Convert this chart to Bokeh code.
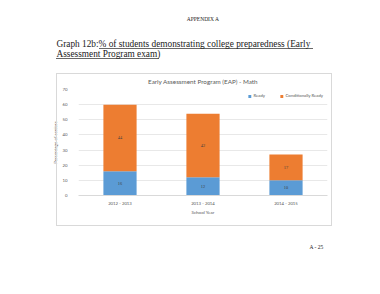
from bokeh.plotting import figure
from bokeh.models import (ColumnDataSource, LabelSet, Legend, LegendItem, FactorRange,
                          Title, InlineStyleSheet)
from bokeh.embed import file_html
from bokeh.resources import INLINE

years = ["2012 - 2013", "2013 - 2014", "2014 - 2015"]
ready = [16, 12, 10]
cond_ready = [44, 42, 17]
series_names = ["Ready", "Conditionally Ready"]
y_ticks = [0, 10, 20, 30, 40, 50, 60, 70]

BLUE = "#5B9BD5"
ORANGE = "#ED7D31"
GRAY = "#595959"
FONT = "Lato"
SERIF = "Liberation Serif"

src = ColumnDataSource(dict(
    years=years, ready=ready, cond=cond_ready,
    ready_mid=[r / 2 for r in ready],
    cond_mid=[r + c / 2 for r, c in zip(ready, cond_ready)],
    ready_txt=[str(v) for v in ready],
    cond_txt=[str(v) for v in cond_ready],
))

css = InlineStyleSheet(css="""
:host { position: relative; }
:host::before {
  content: ""; position: absolute; left: 56px; top: 73px; width: 276px; height: 153px;
  box-sizing: border-box; border: 1px solid #D9D9D9; pointer-events: none; z-index: 5;
}
:host::after {
  content: ""; position: absolute; left: 56px; top: 48px; width: 260px; height: 12px;
  pointer-events: none; z-index: 5;
  background: linear-gradient(#222, #222) 43px 0px / 214px 0.7px no-repeat,
              linear-gradient(#222, #222) 0px 9.5px / 103px 0.7px no-repeat;
}
""")

p = figure(frame_width=249, frame_height=106, x_range=FactorRange(*years), y_range=(0, 70),
           output_backend="svg", toolbar_location=None,
           min_border_left=78, min_border_right=53, min_border_top=89, min_border_bottom=99,
           stylesheets=[css])
p.outline_line_color = None

# above panel: first added sits closest to the plot frame
p.add_layout(Title(text="Early Assessment Program (EAP) - Math", align="center", offset=-8.5,
                   text_font=FONT, text_font_size="6.3px", text_font_style="normal",
                   text_color=GRAY, standoff=9), "above")
p.add_layout(Title(text="Graph 12b:% of students demonstrating college preparedness (Early\nAssessment Program exam)",
                   align="left", offset=-22, text_line_height=1.0,
                   text_font=SERIF, text_font_size="9.3px", text_font_style="normal",
                   text_color="#222222", standoff=26), "above")
p.add_layout(Title(text="APPENDIX A", align="center", offset=-4.5, text_font=SERIF,
                   text_font_size="5.5px", text_font_style="normal", text_color="#222222",
                   standoff=4), "above")

r = p.vbar_stack(["ready", "cond"], x="years", width=0.4, source=src,
                 color=[BLUE, ORANGE], line_color=None)

p.yaxis.ticker = y_ticks
p.yaxis.axis_line_color = None
p.yaxis.major_tick_line_color = None
p.yaxis.minor_tick_line_color = None
p.yaxis.major_label_text_font_size = "4.3px"
p.yaxis.major_label_text_color = GRAY
p.yaxis.major_label_text_font = FONT
p.yaxis.major_label_standoff = 5
p.yaxis.axis_label = "Percentage of seniors"
p.yaxis.axis_label_text_font_size = "4.5px"
p.yaxis.axis_label_text_font_style = "normal"
p.yaxis.axis_label_text_color = GRAY
p.yaxis.axis_label_text_font = FONT
p.yaxis.axis_label_standoff = 2

p.xaxis.axis_line_color = "#D9D9D9"
p.xaxis.major_tick_line_color = None
p.xaxis.minor_tick_line_color = None
p.xaxis.major_label_text_font_size = "4.3px"
p.xaxis.major_label_text_color = GRAY
p.xaxis.major_label_text_font = FONT
p.xaxis.major_label_standoff = -1
p.xaxis.axis_label = "School Year"
p.xaxis.axis_label_text_font_size = "4.5px"
p.xaxis.axis_label_text_font_style = "normal"
p.xaxis.axis_label_text_color = GRAY
p.xaxis.axis_label_text_font = FONT
p.xaxis.axis_label_standoff = 1

p.xgrid.grid_line_color = None
p.ygrid.grid_line_color = "#D9D9D9"
p.ygrid.grid_line_width = 0.6

for ycol, tcol in (("ready_mid", "ready_txt"), ("cond_mid", "cond_txt")):
    p.add_layout(LabelSet(x="years", y=ycol, text=tcol, source=src,
                          text_align="center", text_baseline="middle",
                          text_font_size="4.3px", text_color="#404040", text_font=FONT))

legend = Legend(items=[LegendItem(label=series_names[0], renderers=[r[0]]),
                       LegendItem(label=series_names[1], renderers=[r[1]])],
                orientation="horizontal", location="top_right",
                glyph_width=4, glyph_height=4, label_text_font_size="4.3px",
                label_text_color=GRAY, label_text_font=FONT, label_standoff=2,
                spacing=6, padding=2, margin=4, border_line_color=None,
                background_fill_alpha=0, label_height=4)
p.add_layout(legend, "center")

p.add_layout(Title(text="A - 25", align="right", offset=4, text_font=SERIF,
                   text_font_size="5.5px", text_font_style="normal", text_color="#222222",
                   standoff=48), "below")

open("out.html", "w").write(file_html(p, INLINE))
